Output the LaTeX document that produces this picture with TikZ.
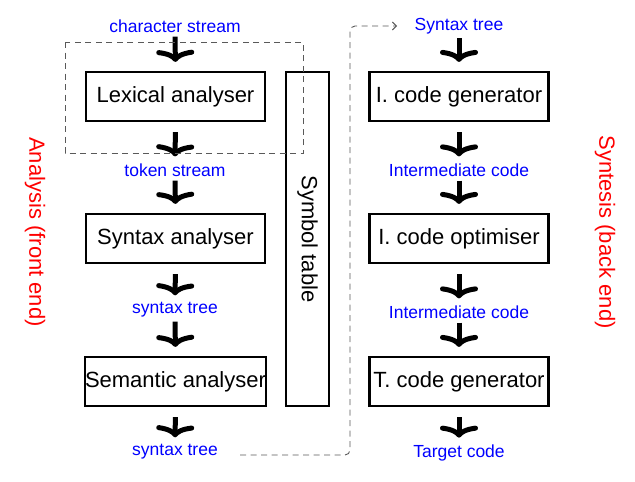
\documentclass[tikz,border=0pt]{standalone}
\usepackage{fontspec}
\setmainfont{Liberation Sans}
\usetikzlibrary{arrows.meta}
\begin{document}
\begin{tikzpicture}[x=1pt,y=-1pt,
  stage/.style={draw,line width=2.2pt,minimum width=179pt,minimum height=49pt,inner sep=0pt,font=\fontsize{22}{25}\selectfont},
  flow/.style={text=blue,font=\fontsize{17.5}{20}\selectfont,inner sep=1pt},
  side/.style={text=red,rotate=-90,font=\fontsize{22}{25}\selectfont},
  bigarrow/.style={line width=5pt,-{Computer Modern Rightarrow[length=12pt,width=38pt,line width=5pt]}},
  dashline/.style={draw=black!65,dashed,dash pattern=on 6pt off 4.5pt,line width=0.9pt}
]
\useasboundingbox (0,0) rectangle (635,482);
% left column
\node[flow] (cs) at (175,26) {character stream};
\node[stage] (lex) at (175.5,96.5) {Lexical analyser};
\node[flow] (ts) at (175,170) {token stream};
\node[stage] (syn) at (175.5,238.5) {Syntax analyser};
\node[flow] (st1) at (175,310) {syntax tree};
\node[stage] (sem) at (175.5,381.5) {Semantic analyser};
\node[flow] (st2) at (175,452) {syntax tree};
% symbol table
\node[draw,line width=2.2pt,minimum width=43pt,minimum height=334pt,inner sep=0pt] (sym) at (307.5,239) {};
\node[rotate=-90,font=\fontsize{22}{25}\selectfont] (symt) at (sym.center) {Symbol table};
% right column
\node[flow] (st3) at (459,26) {Syntax tree};
\node[stage] (icg) at (459,96.5) {I. code generator};
\node[flow] (ic1) at (459,170) {Intermediate code};
\node[stage] (ico) at (459,238.5) {I. code optimiser};
\node[flow] (ic2) at (459,312) {Intermediate code};
\node[stage] (tcg) at (459,381.5) {T. code generator};
\node[flow] (tc) at (459,453) {Target code};
% side labels
\node[side] (an) at (35,232) {Analysis (front end)};
\node[side] (sy) at (605,232) {Syntesis (back end)};
% arrows
\foreach \a/\b in {cs/lex,st3/icg,ts/syn,ic1/ico,st1/sem,ic2/tcg}
  \draw[bigarrow,shorten <=3pt,shorten >=9pt] (\a.south) -- (\b.north);
\foreach \a/\b in {lex/ts,icg/ic1,syn/st1,ico/ic2,sem/st2,tcg/tc}
  \draw[bigarrow,shorten <=10pt,shorten >=6pt] (\a.south) -- (\b.north);
% dashed frame around lexical analyser
\coordinate (f1) at (65,42);
\coordinate (f2) at (303,153);
\draw[dashline] (f1) rectangle (f2);
% dashed connector
\coordinate (c0) at (240,455);
\coordinate (c1) at (350,455);
\coordinate (c2) at (350,26);
\coordinate (c3) at (397,26);
\draw[dashline,rounded corners=5pt,-{Straight Barb[length=4pt,width=8pt]}] (c0) -- (c1) -- (c2) -- (c3);
\end{tikzpicture}
\end{document}
